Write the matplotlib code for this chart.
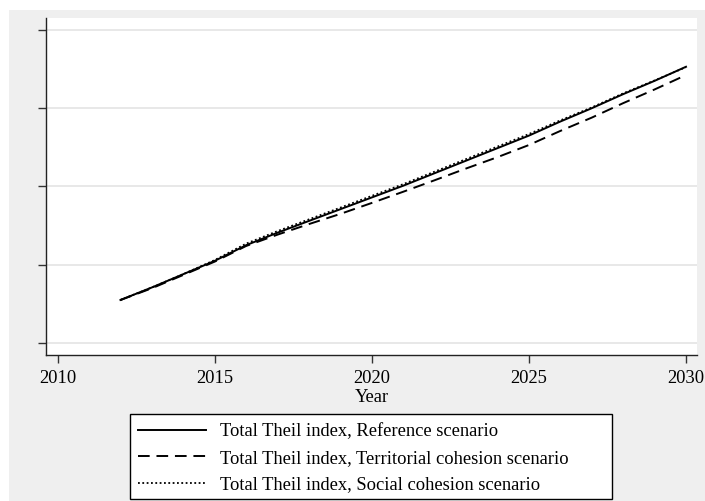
import matplotlib
matplotlib.use("Agg")
import matplotlib.pyplot as plt
from matplotlib.patches import Rectangle

years = list(range(2012, 2031))

# (y axis has no labels, arbitrary units)
reference = [0.55, 0.71, 0.88, 1.05, 1.25, 1.41, 1.56, 1.71, 1.86, 2.01,
             2.17, 2.33, 2.49, 2.65, 2.83, 3.00, 3.18, 3.35, 3.53]
territorial = [0.55, 0.70, 0.87, 1.04, 1.24, 1.385, 1.52, 1.65, 1.79, 1.933,
               2.08, 2.23, 2.375, 2.53, 2.71, 2.88, 3.065, 3.24, 3.424]
social = [0.55, 0.71, 0.88, 1.06, 1.27, 1.43, 1.58, 1.73, 1.88, 2.03,
          2.19, 2.35, 2.51, 2.67, 2.845, 3.01, 3.19, 3.355, 3.525]

labels = ["Total Theil index, Reference scenario",
          "Total Theil index, Territorial cohesion scenario",
          "Total Theil index, Social cohesion scenario"]

plt.rcParams['font.family'] = ['Liberation Serif', 'DejaVu Serif']
plt.rcParams['font.size'] = 13

W, H = 705, 501
fig = plt.figure(figsize=(W/100, H/100), dpi=100, facecolor='white')
bg = Rectangle((9/W, 0), 1 - 9/W, 1 - 10/H, transform=fig.transFigure,
               facecolor='#efefef', edgecolor='none', zorder=-10)
fig.patches.append(bg)

ax = fig.add_axes([46/W, 1 - 355/H, (697 - 46)/W, (355 - 18)/H])
ax.set_facecolor('white')

l1, = ax.plot(years, reference, '-', color='black', lw=1.4)
l2, = ax.plot(years, territorial, color='black', lw=1.4, dashes=(6, 3.5))
l3, = ax.plot(years, social, color='black', lw=1.3, dashes=(1, 1.4))

ax.set_xlim(2009.63, 2030.35)
ax.set_ylim(-0.153, 4.153)
ax.set_xticks([2010, 2015, 2020, 2025, 2030])
ax.set_yticks([0, 1, 2, 3, 4])
ax.set_yticklabels([])
ax.grid(axis='y', color='#e6e6e6', lw=1.3)
ax.set_axisbelow(True)
ax.tick_params(axis='both', direction='out', length=6, width=1, color='#333333', pad=5)
ax.tick_params(axis='x', labelsize=13.3)
for s in ['top', 'right']:
    ax.spines[s].set_visible(False)
for s in ['left', 'bottom']:
    ax.spines[s].set_color('#222222')
    ax.spines[s].set_linewidth(1)
ax.set_xlabel("Year", fontsize=13.3, labelpad=1)

# legend box (Stata style, wide right margin)
box = Rectangle((130/W, 1 - 499/H), (612 - 130)/W, (499 - 414)/H,
                transform=fig.transFigure, facecolor='white',
                edgecolor='black', lw=1, zorder=1)
fig.patches.append(box)

leg = fig.legend([l1, l2, l3], labels, loc='upper left',
                 bbox_to_anchor=(138/W, 1 - 423.5/H), frameon=False,
                 handlelength=3.7, handletextpad=0.72, borderaxespad=0,
                 borderpad=0, labelspacing=0.5, fontsize=13.3)
leg.set_zorder(5)

fig.savefig("out.png", dpi=100, facecolor=fig.get_facecolor())
